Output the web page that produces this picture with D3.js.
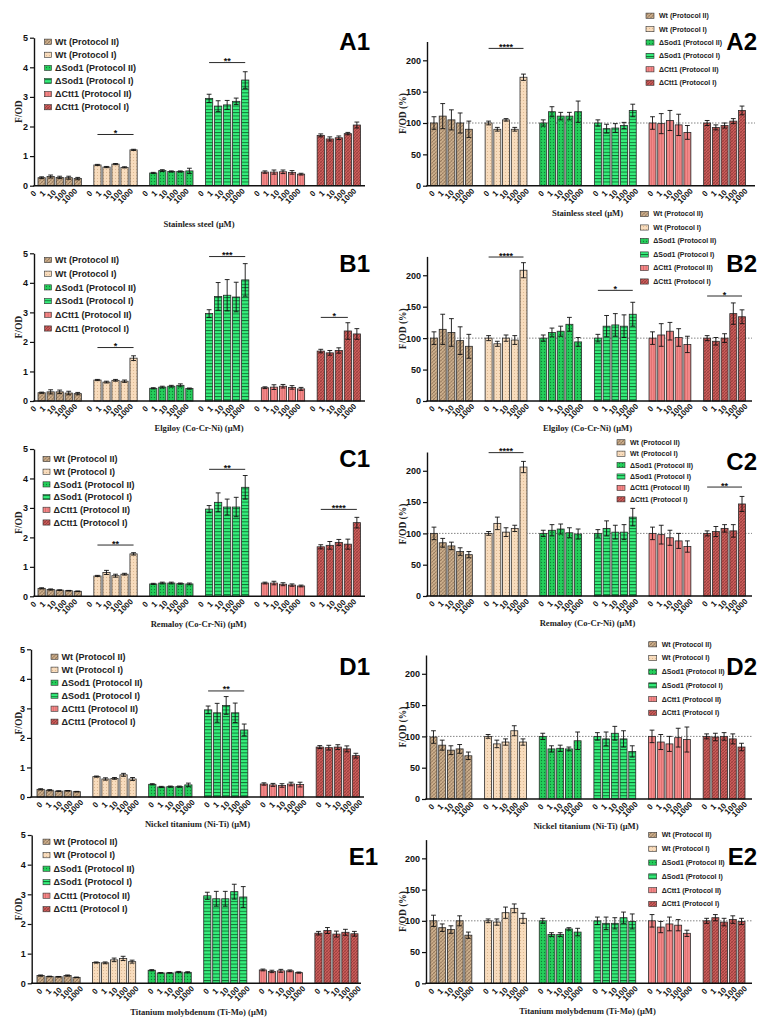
<!DOCTYPE html>
<html><head><meta charset="utf-8">
<script src="https://cdn.jsdelivr.net/npm/d3@7"></script>
<style>body{margin:0;background:#fff} svg{display:block}</style>
</head><body>
<svg id="chart" width="773" height="1027"></svg>
<script>
// ---------- DATA ----------
const doses = ["0","1","10","100","1000"];
const strains = ["Wt (Protocol II)","Wt (Protocol I)","ΔSod1 (Protocol II)","ΔSod1 (Protocol I)","ΔCtt1 (Protocol II)","ΔCtt1 (Protocol I)"];
const metals = ["Stainless steel (μM)","Elgiloy (Co-Cr-Ni) (μM)","Remaloy (Co-Cr-Ni) (μM)","Nickel titanium (Ni-Ti) (μM)","Titanium molybdenum (Ti-Mo) (μM)"];
const leftTicks = [0,1,2,3,4,5];
const rightTicks = [0,50,100,150,200];
const leftTitle = "F/OD";
const rightTitle = "F/OD (%)";

const A1_mean = [[0.27,0.31,0.28,0.27,0.24],[0.70,0.63,0.73,0.62,1.21],[0.43,0.51,0.48,0.48,0.50],[2.95,2.69,2.73,2.85,3.57],[0.46,0.46,0.47,0.45,0.39],[1.70,1.58,1.62,1.76,2.05]];
const A1_err  = [[0.03,0.05,0.04,0.05,0.04],[0.02,0.02,0.02,0.02,0.02],[0.02,0.03,0.02,0.02,0.09],[0.14,0.18,0.15,0.11,0.28],[0.04,0.07,0.06,0.06,0.03],[0.05,0.07,0.06,0.04,0.10]];
const A1_sig  = [[1,0,4,1.73,"*"],[3,0,4,4.16,"**"]];

const A2_mean = [[100,111,105,100,90],[100,90,105,90,173],[100,118,111,111,118],[100,91,92,96,120],[100,99,104,97,85],[100,93,96,103,120]];
const A2_err  = [[10,20,16,16,13],[3,3,2,3,5],[5,8,6,6,17],[5,7,7,5,10],[10,16,16,17,11],[4,4,4,4,7]];
const A2_sig  = [[1,0,4,219,"****"]];

const B1_mean = [[0.28,0.31,0.31,0.27,0.25],[0.71,0.64,0.70,0.67,1.45],[0.43,0.47,0.50,0.53,0.42],[2.96,3.54,3.58,3.52,4.10],[0.45,0.47,0.50,0.46,0.41],[1.69,1.63,1.71,2.37,2.27]];
const B1_err  = [[0.02,0.07,0.06,0.06,0.04],[0.02,0.03,0.03,0.04,0.08],[0.02,0.03,0.03,0.05,0.02],[0.13,0.47,0.53,0.50,0.55],[0.03,0.08,0.06,0.06,0.05],[0.06,0.08,0.09,0.28,0.18]];
const B1_sig  = [[1,0,4,1.81,"*"],[3,0,4,4.89,"***"],[5,0,3,2.83,"*"]];

const B2_mean = [[100,114,109,96,87],[100,91,100,97,208],[100,109,111,122,94],[100,119,121,119,138],[100,105,111,101,90],[100,95,100,139,134]];
const B2_err  = [[10,24,22,22,19],[4,4,5,7,12],[5,7,8,11,7],[6,17,18,18,19],[10,18,14,14,13],[4,6,7,17,11]];
const B2_sig  = [[1,0,4,229,"****"],[3,0,4,176,"*"],[5,0,4,167,"*"]];

const C1_mean = [[0.27,0.23,0.21,0.19,0.17],[0.69,0.81,0.70,0.75,1.44],[0.42,0.45,0.45,0.43,0.42],[2.96,3.19,3.03,3.03,3.70],[0.45,0.45,0.41,0.38,0.35],[1.68,1.73,1.83,1.77,2.50]];
const C1_err  = [[0.02,0.02,0.01,0.01,0.01],[0.02,0.07,0.05,0.03,0.04],[0.02,0.03,0.03,0.02,0.03],[0.12,0.32,0.27,0.33,0.40],[0.03,0.06,0.05,0.04,0.03],[0.07,0.13,0.10,0.17,0.18]];
const C1_sig  = [[1,0,4,1.74,"**"],[3,0,4,4.31,"**"],[5,0,4,2.95,"****"]];

const C2_mean = [[100,85,80,71,66],[100,116,102,108,206],[100,105,107,101,99],[100,108,102,102,126],[100,98,93,88,79],[100,103,108,104,147]];
const C2_err  = [[10,7,6,6,5],[3,10,7,5,9],[5,9,8,8,8],[6,12,11,12,14],[10,15,12,12,9],[4,8,6,10,12]];
const C2_sig  = [[1,0,4,229,"****"],[5,0,4,174,"**"]];

const D1_mean = [[0.26,0.23,0.20,0.21,0.18],[0.69,0.61,0.63,0.75,0.61],[0.43,0.34,0.35,0.35,0.41],[2.95,2.85,3.10,2.85,2.27],[0.44,0.41,0.39,0.44,0.42],[1.69,1.67,1.69,1.63,1.40]];
const D1_err  = [[0.02,0.02,0.01,0.01,0.01],[0.02,0.04,0.03,0.05,0.05],[0.02,0.02,0.02,0.02,0.06],[0.13,0.32,0.30,0.33,0.20],[0.04,0.05,0.06,0.06,0.08],[0.05,0.08,0.08,0.10,0.08]];
const D1_sig  = [[3,0,4,3.59,"**"]];

const D2_mean = [[99,86,78,80,69],[100,88,91,109,91],[100,80,81,80,93],[100,96,105,96,76],[100,91,88,98,95],[100,99,100,96,83]];
const D2_err  = [[10,8,7,7,6],[3,6,5,8,5],[5,5,5,3,14],[6,11,11,13,9],[10,12,12,15,20],[4,6,6,8,6]];
const D2_sig  = [];

const E1_mean = [[0.26,0.23,0.22,0.26,0.20],[0.70,0.69,0.79,0.84,0.73],[0.44,0.35,0.35,0.38,0.37],[2.95,2.85,2.85,3.09,2.91],[0.45,0.40,0.42,0.42,0.36],[1.69,1.78,1.66,1.72,1.67]];
const E1_err  = [[0.02,0.01,0.01,0.02,0.01],[0.02,0.03,0.06,0.07,0.05],[0.02,0.01,0.01,0.02,0.02],[0.12,0.25,0.25,0.25,0.35],[0.03,0.04,0.05,0.03,0.02],[0.06,0.10,0.10,0.10,0.08]];
const E1_sig  = [];

const E2_mean = [[100,89,86,100,77],[100,98,113,120,104],[100,78,78,87,82],[100,96,96,105,99],[100,90,95,93,80],[100,105,98,102,99]];
const E2_err  = [[9,6,6,8,5],[3,5,9,7,8],[4,3,3,2,6],[6,10,9,9,12],[10,9,11,9,5],[4,5,6,6,5]];
const E2_sig  = [];

// ---------- LAYOUT ----------
const SANS = "'Liberation Sans', Arial, sans-serif";
const SERIF = "'Liberation Serif', 'Times New Roman', serif";

const panels = [
 {lab:"A1",side:"L",mean:A1_mean,err:A1_err,sig:A1_sig,metal:0,y0:185.7,yTop:37.7,band:[34,364.5],axisX:34,axisEnd:365,shift:-8,titleX:199,titleY:227,legTX:55,legY:41.7,legDY:13.1,labX:370,labY:50},
 {lab:"A2",side:"R",mean:A2_mean,err:A2_err,sig:A2_sig,metal:0,y0:185.7,yTop:41.5,band:[427,749],axisX:427,axisEnd:755,shift:-2,titleX:587.5,titleY:216,legTX:659,legY:15.7,legDY:13.4,labX:757,labY:50},
 {lab:"B1",side:"L",mean:B1_mean,err:B1_err,sig:B1_sig,metal:1,y0:401,yTop:253.3,band:[34,364.5],axisX:34,axisEnd:365,shift:-8,titleX:199,titleY:431,legTX:55,legY:260,legDY:13.7,labX:370,labY:271.7},
 {lab:"B2",side:"R",mean:B2_mean,err:B2_err,sig:B2_sig,metal:1,y0:401,yTop:256.4,band:[427,749],axisX:427,axisEnd:752,shift:-2,titleX:587.5,titleY:431,legTX:653.3,legY:214,legDY:13.5,labX:757,labY:271.7},
 {lab:"C1",side:"L",mean:C1_mean,err:C1_err,sig:C1_sig,metal:2,y0:596.3,yTop:449,band:[34,364.5],axisX:34,axisEnd:365,shift:-8,titleX:198.5,titleY:627,legTX:53.5,legY:459,legDY:12.7,labX:370,labY:466.7},
 {lab:"C2",side:"R",mean:C2_mean,err:C2_err,sig:C2_sig,metal:2,y0:596,yTop:452,band:[427,749],axisX:427,axisEnd:752,shift:-2,titleX:587.5,titleY:626,legTX:630,legY:442.3,legDY:11.4,labX:757,labY:470},
 {lab:"D1",side:"L",mean:D1_mean,err:D1_err,sig:D1_sig,metal:3,y0:797,yTop:649.3,band:[33,363.5],axisX:31,axisEnd:364,shift:-1,titleX:197.5,titleY:827,legTX:61.5,legY:656.7,legDY:13.0,labX:370,labY:675},
 {lab:"D2",side:"R",mean:D2_mean,err:D2_err,sig:D2_sig,metal:3,y0:799,yTop:655,band:[426.5,748.5],axisX:426,axisEnd:752,shift:-2,titleX:586,titleY:829,legTX:661.7,legY:644.3,legDY:13.7,labX:757,labY:675},
 {lab:"E1",side:"L",mean:E1_mean,err:E1_err,sig:E1_sig,metal:4,y0:983.3,yTop:835,band:[33,362],axisX:31.7,axisEnd:361,shift:-1,titleX:198.5,titleY:1015,legTX:53.5,legY:841.7,legDY:13.5,labX:378,labY:865},
 {lab:"E2",side:"R",mean:E2_mean,err:E2_err,sig:E2_sig,metal:4,y0:983.3,yTop:839.6,band:[426.5,748.5],axisX:426,axisEnd:752,shift:-2,titleX:587.5,titleY:1014,legTX:661.7,legY:835,legDY:13.8,labX:757,labY:865}
];

const svg = d3.select("#chart");
const defs = svg.append("defs");

// ---------- PATTERNS ----------
function pattern(id, w, h, base, draw) {
  const p = defs.append("pattern").attr("id", id).attr("patternUnits", "userSpaceOnUse")
    .attr("width", w).attr("height", h);
  p.append("rect").attr("width", w).attr("height", h).attr("fill", base);
  draw(p);
}
pattern("p0", 3.5, 3.5, "#cfb28f", p => {
  p.append("path").attr("d", "M0,3.5L3.5,0M-1,1L1,-1M2.5,4.5L4.5,2.5").attr("stroke", "#7e6146").attr("stroke-width", 0.7);
  p.append("path").attr("d", "M0,0L3.5,3.5").attr("stroke", "#9c8063").attr("stroke-width", 0.4);
});
pattern("p1", 3, 3, "#f8dcbd", p => {
  p.append("circle").attr("cx", 1.5).attr("cy", 1.5).attr("r", 0.55).attr("fill", "#d7b38c");
});
pattern("p2", 3, 3, "#25cf5b", p => {
  p.append("circle").attr("cx", 1.5).attr("cy", 1.5).attr("r", 0.65).attr("fill", "#0f8237");
});
pattern("p3", 4, 3.3, "#35ef7b", p => {
  p.append("line").attr("x1", 0).attr("x2", 4).attr("y1", 0.5).attr("y2", 0.5).attr("stroke", "#0d6a2e").attr("stroke-width", 0.9);
});
pattern("p4", 2.6, 4, "#f3898a", p => {
  p.append("line").attr("x1", 1.3).attr("x2", 1.3).attr("y1", 0).attr("y2", 4).attr("stroke", "#cf5a58").attr("stroke-width", 0.6);
});
pattern("p5", 3, 3, "#c95c5a", p => {
  p.append("path").attr("d", "M0,3L3,0M-1,1L1,-1M2,4L4,2").attr("stroke", "#842f2e").attr("stroke-width", 0.6);
  p.append("path").attr("d", "M0,0L3,3").attr("stroke", "#9e4341").attr("stroke-width", 0.5);
});
const fills = strains.map((s, i) => `url(#p${i})`);

// ---------- DRAW PANELS ----------
panels.forEach(P => {
  const g = svg.append("g");
  const left = P.side === "L";
  const yMax = left ? 5 : 230;
  const y = d3.scaleLinear().domain([0, yMax]).range([P.y0, P.yTop]);
  const xg = d3.scaleBand().domain(d3.range(strains.length)).range(P.band)
    .paddingInner(left ? 0.224 : 0.234).paddingOuter(left ? 0.072 : 0.064);
  const xb = d3.scaleBand().domain(doses).range([0, xg.bandwidth()]).paddingInner(0.2).paddingOuter(0);
  const cx = (gi, d) => xg(gi) + xb(d) + xb.bandwidth() / 2;

  // reference line at 100%
  if (!left) {
    g.append("line").attr("x1", P.axisX).attr("x2", P.axisEnd).attr("y1", y(100)).attr("y2", y(100))
      .attr("stroke", "#777").attr("stroke-width", 0.9).attr("stroke-dasharray", "1.5,1.5");
  }

  // bars
  const rows = [];
  P.mean.forEach((arr, gi) => arr.forEach((v, di) => rows.push({gi, d: doses[di], v, e: P.err[gi][di]})));
  g.selectAll("rect.bar").data(rows).join("rect").attr("class", "bar")
    .attr("x", r => xg(r.gi) + xb(r.d)).attr("width", xb.bandwidth())
    .attr("y", r => y(r.v)).attr("height", r => y(0) - y(r.v))
    .attr("fill", r => fills[r.gi]).attr("stroke", "#2a2a2a").attr("stroke-width", 0.8);

  // error bars
  const cap = 2.4;
  g.selectAll("path.err").data(rows).join("path").attr("class", "err")
    .attr("d", r => {
      const x = cx(r.gi, r.d), y1 = y(r.v + r.e), y2 = y(Math.max(0, r.v - r.e));
      return `M${x},${y1}V${y2}M${x - cap},${y1}H${x + cap}M${x - cap},${y2}H${x + cap}`;
    })
    .attr("stroke", "#111").attr("stroke-width", 0.9).attr("fill", "none");

  // axes
  const ax = d3.axisLeft(y).tickValues(left ? leftTicks : rightTicks).tickFormat(d3.format("d"))
    .tickSize(4).tickSizeOuter(0).tickPadding(2);
  const ag = g.append("g").attr("transform", `translate(${P.axisX},0)`).call(ax);
  ag.select(".domain").attr("stroke", "#111").attr("stroke-width", 1.4);
  ag.selectAll(".tick line").attr("stroke", "#111").attr("stroke-width", 1.2);
  ag.selectAll(".tick text").attr("font-family", SANS).attr("font-weight", "bold").attr("font-size", 9).attr("fill", "#111");
  g.append("line").attr("x1", P.axisX - 0.7).attr("x2", P.axisEnd).attr("y1", P.y0).attr("y2", P.y0)
    .attr("stroke", "#111").attr("stroke-width", 1.4);

  // x tick labels
  g.selectAll("text.xt").data(rows).join("text").attr("class", "xt")
    .attr("transform", r => `translate(${cx(r.gi, r.d) + P.shift},${P.y0 + 8 + 0.8 * (r.d.length - 1)}) rotate(-45)`)
    .attr("text-anchor", "middle").attr("dominant-baseline", "central")
    .attr("font-family", SANS).attr("font-weight", "bold").attr("font-size", 8).attr("fill", "#111")
    .text(r => r.d);

  // axis titles
  g.append("text").attr("x", P.titleX).attr("y", P.titleY).attr("text-anchor", "middle")
    .attr("font-family", SERIF).attr("font-weight", "bold").attr("font-size", 8.6).attr("fill", "#222")
    .text(metals[P.metal]);
  const ty = (P.y0 + P.yTop) / 2;
  const tx = left ? 21.5 : 406;
  g.append("text").attr("transform", `translate(${tx},${ty}) rotate(-90)`).attr("text-anchor", "middle")
    .attr("font-family", SERIF).attr("font-weight", "bold").attr("font-size", 9.5).attr("fill", "#222")
    .text(left ? leftTitle : rightTitle);

  // significance
  P.sig.forEach(s => {
    const [gi, a, b, v, lbl] = s;
    const x1 = cx(gi, doses[a]), x2 = cx(gi, doses[b]), yy = y(v);
    g.append("line").attr("x1", x1).attr("x2", x2).attr("y1", yy).attr("y2", yy).attr("stroke", "#111").attr("stroke-width", 0.9);
    g.append("text").attr("x", (x1 + x2) / 2).attr("y", yy + 1.5).attr("text-anchor", "middle")
      .attr("font-family", SANS).attr("font-weight", "bold").attr("font-size", 9).attr("fill", "#111").text(lbl);
  });

  // legend
  const fs = left ? 9 : 7;
  const sw = left ? 7 : 8;
  const lg = g.append("g");
  strains.forEach((s, i) => {
    const yy = P.legY + i * P.legDY;
    lg.append("rect").attr("x", P.legTX - (left ? 10.5 : 13)).attr("y", yy - 2.6).attr("width", sw).attr("height", 5.2)
      .attr("fill", fills[i]).attr("stroke", "#333").attr("stroke-width", 0.6);
    lg.append("text").attr("x", P.legTX).attr("y", yy + fs * 0.35).attr("font-family", SANS).attr("font-weight", "bold")
      .attr("font-size", fs).attr("fill", "#222").text(s);
  });

  // panel label
  g.append("text").attr("x", P.labX).attr("y", P.labY).attr("text-anchor", "end")
    .attr("font-family", SANS).attr("font-weight", "bold").attr("font-size", 24).attr("fill", "#000").text(P.lab);
});
</script>
</body></html>
